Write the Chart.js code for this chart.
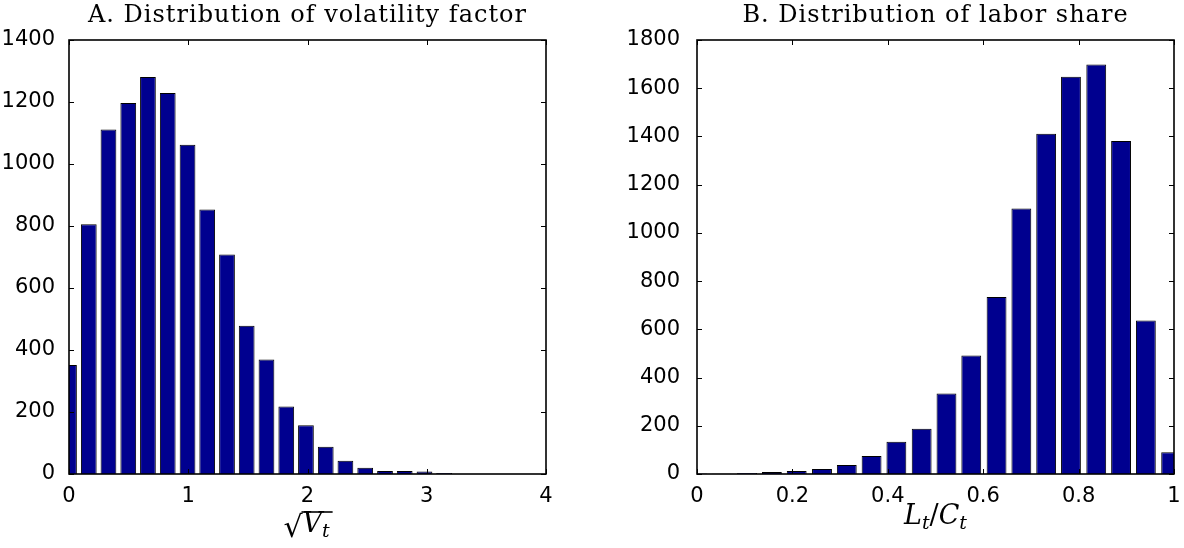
<!DOCTYPE html>
<html>
<head>
<meta charset="utf-8">
<title>Distributions</title>
<script src="https://cdn.jsdelivr.net/npm/chart.js@4.4.0/dist/chart.umd.min.js"></script>
<style>
  html, body { margin: 0; padding: 0; background: #fff; }
  .panel { position: absolute; top: 0; width: 592px; height: 548px; }
  #panelA { left: 0; }
  #panelB { left: 592px; }
</style>
</head>
<body>
<div class="panel" id="panelA"><canvas id="chartA" width="592" height="548"></canvas></div>
<div class="panel" id="panelB"><canvas id="chartB" width="592" height="548"></canvas></div>
<script>
// Données - histogramme A (facteur de volatilité)
const volBins = [0, 0.166, 0.331, 0.497, 0.662, 0.828, 0.994, 1.159, 1.325, 1.490,
                 1.656, 1.822, 1.987, 2.153, 2.318, 2.484, 2.650, 2.815, 2.981, 3.146];
const volCounts = [352, 806, 1111, 1197, 1281, 1229, 1062, 853, 708, 478,
                   369, 218, 157, 88, 43, 20, 10, 10, 8, 3];
const volXTicks = [0, 1, 2, 3, 4];
const volYTicks = [0, 200, 400, 600, 800, 1000, 1200, 1400];

// Données - histogramme B (part du travail)
const laborBins = [0, 0.052, 0.105, 0.157, 0.209, 0.262, 0.314, 0.366, 0.418, 0.471,
                   0.523, 0.575, 0.628, 0.680, 0.732, 0.784, 0.837, 0.889, 0.941, 0.994];
const laborCounts = [2, 1, 4, 8, 12, 21, 37, 75, 134, 188,
                     334, 491, 734, 1101, 1411, 1648, 1698, 1381, 637, 90];
const laborXTicks = [0, 0.2, 0.4, 0.6, 0.8, 1];
const laborYTicks = [0, 200, 400, 600, 800, 1000, 1200, 1400, 1600, 1800];

const BAR_COLOR = '#00008F';
const SERIF = '"DejaVu Serif", serif';
const SANS = '"DejaVu Sans", sans-serif';

// Libellé de l'axe x : racine de V_t
function labelRacine(ctx, cx, base) {
    ctx.font = '30px ' + SERIF;
    const wR = ctx.measureText('\u221A').width;
    ctx.font = 'italic 27px ' + SERIF;
    const wV = ctx.measureText('V').width;
    ctx.font = 'italic 19px ' + SERIF;
    const wT = ctx.measureText('t').width;
    const total = wR + wV + wT + 2;
    let x = cx - total / 2;

    ctx.font = '30px ' + SERIF;
    ctx.fillText('\u221A', x, base + 5);
    x += wR;
    // barre horizontale de la racine
    ctx.lineWidth = 1.6;
    ctx.beginPath();
    ctx.moveTo(x - 1, base - 20);
    ctx.lineTo(x + wV + wT + 3, base - 20);
    ctx.stroke();
    ctx.font = 'italic 27px ' + SERIF;
    ctx.fillText('V', x, base);
    x += wV;
    ctx.font = 'italic 19px ' + SERIF;
    ctx.fillText('t', x, base + 5);
}

// Libellé de l'axe x : L_t / C_t
function labelRatio(ctx, cx, base) {
    const parts = [
        { t: 'L', f: 'italic 27px ' + SERIF, dy: 0 },
        { t: 't', f: 'italic 19px ' + SERIF, dy: 5 },
        { t: '/', f: '27px ' + SERIF, dy: 0 },
        { t: 'C', f: 'italic 27px ' + SERIF, dy: 0 },
        { t: 't', f: 'italic 19px ' + SERIF, dy: 5 }
    ];
    let total = 0;
    parts.forEach(function(p) {
        ctx.font = p.f;
        p.w = ctx.measureText(p.t).width;
        total += p.w;
    });
    let x = cx - total / 2;
    parts.forEach(function(p) {
        ctx.font = p.f;
        ctx.fillText(p.t, x, base + p.dy);
        x += p.w;
    });
}

// Plugin : cadre, graduations vers l'intérieur, titre et libellé de l'axe x
function makeCadre(title, drawLabel, labelBase) {
    return {
        id: 'cadre',
        afterDatasetsDraw: function(chart) {
            const ctx = chart.ctx;
            const a = chart.chartArea;
            const xs = chart.scales.x;
            const ys = chart.scales.y;
            ctx.save();
            ctx.strokeStyle = '#000';
            ctx.fillStyle = '#000';
            ctx.lineWidth = 1;
            ctx.beginPath();
            xs.ticks.forEach(function(t) {
                const px = Math.round(xs.getPixelForValue(t.value)) + 0.5;
                ctx.moveTo(px, a.bottom);
                ctx.lineTo(px, a.bottom - 5);
                ctx.moveTo(px, a.top);
                ctx.lineTo(px, a.top + 5);
            });
            ys.ticks.forEach(function(t) {
                const py = Math.round(ys.getPixelForValue(t.value)) + 0.5;
                ctx.moveTo(a.left, py);
                ctx.lineTo(a.left + 5, py);
                ctx.moveTo(a.right, py);
                ctx.lineTo(a.right - 5, py);
            });
            ctx.stroke();
            ctx.lineWidth = 1.6;
            ctx.strokeRect(a.left, a.top, a.right - a.left, a.bottom - a.top);

            // titre
            ctx.font = '24px ' + SERIF;
            ctx.letterSpacing = '1px';
            ctx.textAlign = 'center';
            ctx.textBaseline = 'alphabetic';
            ctx.fillText(title, (a.left + a.right) / 2, 22);
            ctx.letterSpacing = '0px';

            // libellé x
            ctx.textAlign = 'left';
            drawLabel(ctx, (a.left + a.right) / 2, labelBase);
            ctx.restore();
        }
    };
}

function makeHist(id, bins, counts, xTicks, yTicks, cfg) {
    const points = bins.map(function(b, i) {
        return { x: b, y: counts[i] };
    });
    return new Chart(document.getElementById(id), {
        type: 'bar',
        data: {
            datasets: [{
                data: points,
                backgroundColor: BAR_COLOR,
                borderColor: '#000',
                borderWidth: 1,
                borderSkipped: 'start',
                barPercentage: 0.8,
                categoryPercentage: 1,
                clip: 0
            }]
        },
        options: {
            responsive: false,
            animation: false,
            events: [],
            layout: { padding: { left: 0, right: cfg.padRight, top: 40, bottom: 0 } },
            plugins: {
                legend: { display: false },
                tooltip: { enabled: false },
                title: { display: false }
            },
            scales: {
                x: {
                    type: 'linear',
                    min: xTicks[0],
                    max: xTicks[xTicks.length - 1],
                    offset: false,
                    grid: { display: false },
                    border: { display: false },
                    ticks: {
                        color: '#000',
                        font: { family: SANS, size: 21 },
                        padding: 2,
                        maxRotation: 0,
                        autoSkip: false,
                        callback: function(v) { return String(+Number(v).toFixed(2)); }
                    },
                    afterBuildTicks: function(s) {
                        s.ticks = xTicks.map(function(v) { return { value: v }; });
                    },
                    afterFit: function(s) { s.height = 74; }
                },
                y: {
                    type: 'linear',
                    min: yTicks[0],
                    max: yTicks[yTicks.length - 1],
                    grid: { display: false },
                    border: { display: false },
                    ticks: {
                        color: '#000',
                        font: { family: SANS, size: 21 },
                        padding: cfg.yPad,
                        callback: function(v) { return String(v); }
                    },
                    afterBuildTicks: function(s) {
                        s.ticks = yTicks.map(function(v) { return { value: v }; });
                    },
                    afterFit: function(s) { s.width = cfg.yWidth; }
                }
            }
        },
        plugins: [makeCadre(cfg.title, cfg.label, cfg.labelBase)]
    });
}

document.addEventListener('DOMContentLoaded', function() {
    makeHist('chartA', volBins, volCounts, volXTicks, volYTicks, {
        title: 'A. Distribution of volatility factor',
        label: labelRacine,
        labelBase: 532,
        padRight: 46,
        yWidth: 69,
        yPad: 6
    });
    makeHist('chartB', laborBins, laborCounts, laborXTicks, laborYTicks, {
        title: 'B. Distribution of labor share',
        label: labelRatio,
        labelBase: 524,
        padRight: 10,
        yWidth: 105,
        yPad: 9
    });
});
</script>
</body>
</html>
